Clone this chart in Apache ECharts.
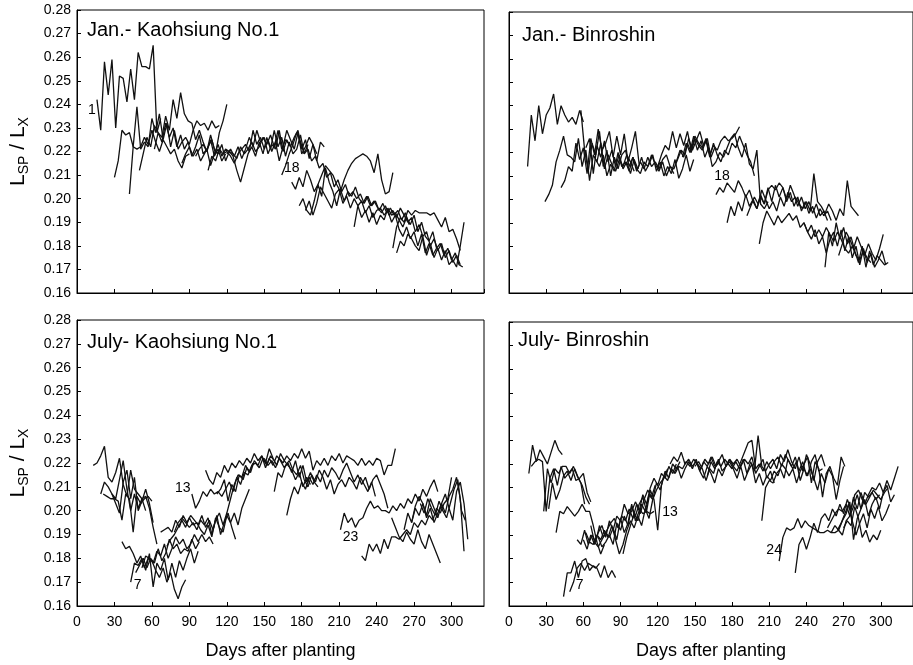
<!DOCTYPE html>
<html>
<head>
<meta charset="utf-8">
<script src="https://cdn.jsdelivr.net/npm/echarts@6/dist/echarts.min.js"></script>
<style>
  html, body { margin: 0; padding: 0; background: #fff; }
  #chart { width: 913px; height: 665px; }
</style>
</head>
<body>
<div id="chart"></div>
<script>
// Leaf-by-leaf LSP/LX ratio, sampled every few days after planting.
const STEP_DAYS = 3;

const panelTitles = ['Jan.- Kaohsiung No.1', 'Jan.- Binroshin', 'July- Kaohsiung No.1', 'July- Binroshin'];
const xAxisTitle = 'Days after planting';

// ---- January planting, Kaohsiung No.1 ----
const janKaoStarts = [16, 30, 42, 50, 62, 84, 95, 105, 120, 164, 172, 178, 183, 222, 253, 256];
const janKaoRatios = [
  [0.242,0.229,0.258,0.244,0.259,0.230,0.252,0.251,0.241,0.255,0.242,0.262,0.256,0.256,0.255,0.265,0.228,0.234],
  [0.209,0.216,0.229,0.227,0.228,0.222,0.221,0.222,0.226,0.223,0.229,0.224,0.220,0.225,0.222,0.219,0.221,0.216,0.213,0.218,0.219],
  [0.202,0.222,0.239,0.221,0.224,0.222,0.234,0.228,0.236,0.225,0.232,0.222,0.229,0.221,0.224,0.226,0.223,0.229,0.233,0.231,0.232,0.229,0.233,0.230,0.231],
  [0.212,0.219,0.226,0.222,0.231,0.228,0.226,0.235,0.229,0.242,0.234,0.245,0.236,0.233,0.232,0.225,0.229,0.224,0.220,0.225,0.218,0.221,0.216,0.219],
  [0.221,0.228,0.224,0.232,0.226,0.230,0.222,0.227,0.221,0.224,0.218,0.222,0.227,0.219,0.221,0.214,0.219,0.223,0.218,0.221,0.220,0.219,0.217,0.222,0.219,0.221,0.224,0.220,0.222,0.226,0.223,0.227,0.222,0.229,0.221,0.225,0.223],
  [0.215,0.219,0.222,0.218,0.221,0.216,0.219,0.222,0.225,0.219,0.228,0.233,0.240],
  [0.218,0.221,0.223,0.220,0.227,0.221,0.219,0.223,0.216,0.220,0.218,0.212,0.207,0.213,0.219,0.222,0.218,0.224,0.219,0.226,0.221,0.229,0.222,0.226,0.218,0.224,0.219,0.221,0.227,0.219,0.223],
  [0.212,0.218,0.216,0.221,0.219,0.220,0.218,0.215,0.219,0.221,0.223,0.220,0.229,0.223,0.226,0.221,0.225,0.220,0.224,0.216,0.222,0.229,0.225,0.221,0.228,0.219,0.222,0.226,0.223,0.216,0.224,0.222],
  [0.219,0.221,0.218,0.222,0.217,0.221,0.226,0.222,0.229,0.224,0.226,0.219,0.223,0.221,0.229,0.220,0.225,0.222,0.226,0.229,0.221,0.225,0.217,0.223,0.219],
  [0.210,0.214,0.219,0.223,0.228,0.224,0.219,0.221,0.216,0.218,0.213,0.215,0.209,0.211,0.205,0.208,0.203,0.206,0.201,0.203,0.200,0.202,0.198,0.201,0.197,0.199,0.195,0.198,0.194,0.196,0.193,0.195,0.191,0.194,0.189],
  [0.207,0.204,0.209,0.205,0.212,0.208,0.203,0.206,0.210,0.214,0.212,0.210,0.206,0.203,0.208,0.212,0.215,0.217,0.218,0.219,0.218,0.216,0.211,0.219,0.208,0.202,0.203,0.211],
  [0.197,0.200,0.195,0.193,0.199,0.206,0.201,0.213,0.207,0.203,0.197,0.204,0.199,0.203,0.201,0.205,0.200,0.198,0.201,0.197,0.199,0.196,0.194,0.197,0.193,0.195,0.192,0.196,0.193,0.190,0.192,0.186,0.189,0.184,0.186,0.180,0.183,0.178,0.181,0.175,0.178,0.173,0.176,0.172],
  [0.195,0.199,0.193,0.198,0.205,0.202,0.199,0.196,0.202,0.204,0.198,0.201,0.196,0.200,0.197,0.199,0.194,0.197,0.192,0.195,0.196,0.193,0.195,0.190,0.193,0.187,0.184,0.188,0.183,0.186,0.180,0.185,0.177,0.181,0.176,0.179],
  [0.188,0.197,0.192,0.195,0.190,0.194,0.189,0.193,0.191,0.196,0.193,0.194,0.191,0.188,0.192,0.189,0.193,0.186,0.190,0.184,0.182,0.186,0.179,0.181,0.176,0.179,0.174,0.177,0.172,0.171],
  [0.179,0.188,0.192,0.190,0.195,0.193,0.195,0.194,0.194,0.194,0.193,0.194,0.191,0.188,0.192,0.186,0.187,0.183,0.178],
  [0.177,0.182,0.180,0.185,0.183,0.180,0.178,0.184,0.176,0.181,0.175,0.179,0.174,0.178,0.172,0.174,0.171,0.180,0.190]
];

// ---- January planting, Binroshin ----
const janBinStarts = [15, 29, 42, 58, 62, 70, 120, 135, 140, 167, 176, 192, 202, 238, 255, 266];
const janBinRatios = [
  [0.214,0.236,0.225,0.240,0.228,0.236,0.239,0.245,0.232,0.240,0.236,0.233,0.235,0.232,0.238,0.233],
  [0.199,0.202,0.206,0.216,0.221,0.227,0.219,0.218,0.216,0.226,0.214,0.221,0.208,0.219,0.216,0.224,0.213,0.219,0.215,0.212,0.217,0.214,0.219,0.216,0.212],
  [0.205,0.208,0.214,0.212,0.224,0.217,0.222,0.211,0.226,0.219,0.230,0.221,0.224,0.229,0.218,0.227,0.219,0.228,0.216,0.222,0.229,0.215],
  [0.238,0.221,0.212,0.224,0.219,0.229,0.214,0.221,0.210,0.218,0.213,0.219,0.221,0.214,0.218,0.212,0.216,0.213,0.218,0.214,0.216,0.213,0.217,0.219,0.214,0.211],
  [0.222,0.226,0.211,0.223,0.218,0.225,0.216,0.221,0.214,0.219,0.213,0.216,0.211,0.217,0.213,0.218,0.212,0.215,0.219,0.212,0.216,0.210,0.214,0.211,0.217,0.209,0.213,0.219,0.212,0.217],
  [0.217,0.214,0.219,0.210,0.215,0.212,0.220,0.214,0.216,0.212,0.218,0.213,0.211,0.216,0.214,0.219,0.215,0.212,0.216,0.210,0.214,0.213,0.217,0.221,0.219,0.226,0.221,0.225,0.229,0.223,0.226,0.218,0.222],
  [0.214,0.219,0.223,0.221,0.229,0.222,0.228,0.223,0.229,0.221,0.227,0.224,0.222,0.226,0.219,0.223,0.221,0.225,0.227,0.225,0.226,0.228,0.231],
  [0.216,0.221,0.218,0.224,0.220,0.226,0.223,0.221,0.225,0.218,0.224,0.219,0.216,0.221,0.219,0.224,0.222,0.227,0.223,0.219,0.216,0.210],
  [0.218,0.224,0.220,0.227,0.221,0.225,0.218,0.222,0.214,0.216,0.220,0.218,0.222,0.226,0.228,0.222,0.218,0.224,0.215,0.213,0.221,0.198,0.196,0.199],
  [0.202,0.205,0.203,0.207,0.205,0.203,0.208,0.205,0.201,0.204,0.199,0.196,0.201,0.198,0.204,0.206,0.204,0.207,0.205,0.200,0.206,0.202,0.197,0.201,0.196,0.199,0.194,0.198,0.193,0.195,0.191],
  [0.190,0.197,0.193,0.199,0.195,0.202,0.197,0.200,0.196,0.202,0.198,0.205,0.199,0.206,0.201,0.205,0.199,0.203,0.197,0.201,0.195,0.199,0.194,0.197,0.192,0.196,0.193,0.195,0.191],
  [0.193,0.197,0.201,0.198,0.204,0.200,0.196,0.199,0.195,0.201,0.197,0.203,0.199,0.201,0.198,0.196,0.199,0.195,0.211,0.199,0.197,0.194,0.198,0.195,0.191,0.196,0.193,0.208,0.197,0.195,0.193],
  [0.181,0.190,0.195,0.192,0.189,0.193,0.190,0.192,0.194,0.191,0.193,0.188,0.190,0.186,0.189,0.184,0.187,0.184,0.188,0.185,0.182,0.186,0.183,0.179,0.177,0.180,0.176,0.174,0.178,0.175,0.173],
  [0.190,0.186,0.183,0.187,0.181,0.184,0.177,0.183,0.186,0.180,0.187,0.178,0.184,0.175,0.180,0.172,0.179,0.173,0.177,0.171,0.174,0.178,0.172],
  [0.171,0.186,0.180,0.190,0.183,0.188,0.181,0.184,0.178,0.173,0.180,0.171,0.178,0.172,0.176,0.174,0.172,0.173],
  [0.176,0.181,0.186,0.183,0.179,0.184,0.180,0.176,0.181,0.177,0.174,0.179,0.185]
];

// ---- July planting, Kaohsiung No.1 ----
const julKaoStarts = [13, 19, 21, 28, 36, 43, 47, 52, 67, 72, 78, 92, 103, 112, 150, 158, 168, 211, 228, 252, 262, 268, 275];
const julKaoRatios = [
  [0.219,0.220,0.223,0.227,0.214,0.212,0.216,0.222,0.211,0.206,0.217,0.209,0.207,0.205,0.206,0.201,0.193,0.186],
  [0.207,0.212,0.210,0.207,0.205,0.213,0.221,0.209,0.200,0.207,0.201,0.205,0.200],
  [0.207,0.206,0.205,0.205,0.204,0.196,0.207,0.205,0.191,0.206,0.203,0.205,0.206,0.204],
  [0.207,0.203,0.199,0.212,0.217,0.205,0.214,0.200,0.204,0.209,0.203,0.195],
  [0.187,0.184,0.185,0.182,0.178,0.181,0.176,0.180,0.179,0.175,0.172,0.176,0.170,0.174,0.167,0.163,0.168,0.171],
  [0.170,0.178,0.177,0.180,0.175,0.182,0.168,0.178,0.175,0.180,0.171,0.178,0.172,0.179,0.175,0.180,0.184,0.178,0.183],
  [0.174,0.177,0.180,0.176,0.180,0.178,0.184,0.179,0.182,0.188,0.184,0.186,0.182,0.184,0.183,0.188,0.184,0.187],
  [0.176,0.181,0.180,0.178,0.183,0.181,0.186,0.180,0.184,0.189,0.186,0.188,0.184,0.186,0.190,0.187,0.190,0.187,0.189,0.186],
  [0.191,0.192,0.193,0.191,0.196,0.193,0.198,0.195,0.198,0.196,0.194,0.198,0.193,0.196,0.192,0.198,0.190,0.195,0.199,0.193,0.188],
  [0.185,0.188,0.190,0.193,0.196,0.193,0.197,0.194,0.195,0.192,0.190,0.194,0.189,0.197,0.193,0.191,0.198,0.195,0.199,0.194,0.201,0.205,0.209],
  [0.191,0.195,0.197,0.195,0.193,0.195,0.192,0.196,0.194,0.197,0.190,0.196,0.199,0.194,0.199,0.205,0.211,0.215,0.214,0.219,0.216,0.220],
  [0.207,0.201,0.204,0.208,0.206,0.209,0.207,0.208,0.206,0.209,0.212,0.208,0.214,0.211,0.216,0.215,0.219,0.220,0.218,0.222,0.219,0.223,0.221],
  [0.217,0.213,0.211,0.216,0.214,0.219,0.216,0.220,0.218,0.221,0.219,0.222,0.220,0.224,0.221,0.223,0.218,0.222,0.219,0.223,0.221,0.218,0.220,0.216,0.221,0.214,0.219,0.212,0.216,0.212,0.210],
  [0.207,0.209,0.213,0.204,0.211,0.208,0.215,0.213,0.218,0.216,0.221,0.219,0.223,0.220,0.226,0.222,0.219,0.224,0.221,0.219,0.217,0.213,0.216,0.210,0.214,0.211],
  [0.222,0.219,0.221,0.218,0.222,0.220,0.223,0.221,0.224,0.222,0.226,0.222,0.225,0.217,0.221,0.219,0.222,0.219,0.223,0.221,0.224,0.220,0.223,0.222,0.221,0.219,0.222,0.219,0.221,0.219,0.222,0.221,0.215,0.219,0.219,0.226],
  [0.208,0.216,0.214,0.219,0.221,0.217,0.215,0.219,0.213,0.210,0.215,0.212,0.217,0.214,0.209,0.213,0.207,0.211,0.213,0.210,0.214,0.212,0.209,0.214,0.211,0.208,0.212,0.206],
  [0.198,0.205,0.210,0.207,0.212,0.209,0.214,0.211,0.215,0.212,0.217,0.214,0.218,0.216,0.213,0.217,0.220,0.216,0.212,0.215,0.211,0.214,0.209,0.213,0.215,0.211,0.207,0.201],
  [0.192,0.199,0.195,0.197,0.193,0.196,0.197,0.201,0.204,0.201,0.202,0.200,0.200,0.199,0.202,0.200,0.203,0.201,0.205,0.203,0.207,0.204,0.209,0.206,0.210,0.213,0.208],
  [0.181,0.179,0.186,0.183,0.186,0.182,0.188,0.184,0.189,0.189,0.188,0.190,0.192,0.190,0.195,0.193,0.196,0.194,0.198,0.196,0.201,0.199,0.203,0.205,0.214],
  [0.197,0.193,0.189,0.187,0.191,0.188,0.186,0.192,0.187,0.184,0.190,0.186,0.182,0.178],
  [0.192,0.199,0.195,0.201,0.198,0.203,0.197,0.201,0.195,0.199,0.203,0.207,0.201,0.196,0.208,0.212,0.203,0.188],
  [0.195,0.202,0.206,0.203,0.198,0.205,0.201,0.197,0.203,0.199,0.206,0.209,0.214,0.205,0.183],
  [0.203,0.199,0.205,0.201,0.198,0.204,0.200,0.197,0.203,0.209,0.213,0.200,0.196]
];

// ---- July planting, Binroshin ----
const julBinStarts = [16, 18, 28, 32, 38, 44, 49, 55, 60, 62, 66, 72, 92, 130, 133, 150, 160, 204, 218, 231, 257, 260, 265, 270];
const julBinRatios = [
  [0.216,0.228,0.221,0.226,0.223,0.220,0.225,0.230,0.226,0.224],
  [0.219,0.221,0.222,0.221,0.200,0.214,0.218,0.211,0.219,0.214,0.216,0.218,0.213,0.214,0.216,0.208,0.204],
  [0.200,0.218,0.212,0.218,0.216,0.219,0.219,0.216,0.219,0.215,0.212,0.203],
  [0.201,0.212,0.205,0.209,0.215,0.217,0.213,0.218,0.214,0.211,0.206,0.203],
  [0.191,0.200,0.199,0.202,0.200,0.198,0.200,0.203,0.200,0.200,0.194,0.187,0.182,0.186],
  [0.164,0.174,0.174,0.179,0.172,0.179,0.180,0.175,0.177,0.176,0.172,0.177,0.172,0.175,0.172],
  [0.166,0.170,0.176,0.178,0.175,0.178,0.177,0.176,0.178],
  [0.188,0.186,0.192,0.186,0.190,0.187,0.194,0.189,0.192,0.195,0.197,0.193,0.198,0.196,0.201,0.197,0.203,0.199,0.205,0.209,0.206,0.211],
  [0.188,0.184,0.190,0.186,0.191,0.194,0.189,0.196,0.192,0.198,0.196,0.203,0.199,0.200,0.204,0.201,0.199,0.200,0.199,0.200],
  [0.191,0.187,0.186,0.190,0.188,0.192,0.189,0.194,0.188,0.182,0.186,0.192,0.196,0.193,0.198,0.194,0.201,0.197,0.205,0.209,0.212,0.214,0.218],
  [0.194,0.187,0.185,0.188,0.191,0.189,0.193,0.188,0.197,0.191,0.195,0.203,0.196,0.200,0.207,0.203,0.210,0.214,0.211,0.216,0.214,0.219,0.216,0.220],
  [0.189,0.185,0.187,0.190,0.186,0.195,0.192,0.198,0.194,0.202,0.198,0.203,0.206,0.200,0.209,0.205,0.192,0.211,0.217,0.214,0.220,0.218,0.221],
  [0.182,0.189,0.194,0.199,0.196,0.203,0.200,0.207,0.205,0.212,0.209,0.215,0.213,0.218,0.216,0.219,0.218,0.221,0.219,0.222,0.220,0.218,0.222,0.220,0.223,0.219,0.221],
  [0.220,0.223,0.221,0.225,0.220,0.222,0.219,0.221,0.217,0.221,0.219,0.223,0.219,0.221,0.224,0.219,0.222,0.220,0.222,0.219,0.222,0.220,0.223,0.216,0.219,0.222,0.214,0.217,0.212],
  [0.216,0.219,0.214,0.218,0.221,0.218,0.222,0.217,0.214,0.219,0.216,0.212,0.218,0.215,0.219,0.222,0.219,0.217,0.221,0.225,0.229,0.230,0.218,0.220,0.217,0.221,0.218,0.221,0.223,0.219,0.224,0.221,0.218,0.221,0.213,0.218,0.215,0.221,0.224,0.217,0.218],
  [0.219,0.221,0.218,0.213,0.218,0.216,0.221,0.219,0.222,0.220,0.218,0.221,0.218,0.222,0.216,0.221,0.217,0.232,0.219,0.217,0.220,0.222,0.218,0.224,0.221,0.226,0.221,0.218,0.223,0.217,0.224,0.220,0.213,0.221,0.224,0.219],
  [0.215,0.221,0.218,0.222,0.217,0.219,0.221,0.218,0.214,0.219,0.213,0.217,0.220,0.212,0.216,0.211,0.215,0.213,0.217,0.215,0.220,0.218,0.215,0.218,0.212,0.217,0.220,0.223,0.212,0.221,0.218,0.206,0.216,0.219,0.214,0.211,0.223,0.219],
  [0.196,0.210,0.213,0.212,0.216,0.218,0.214,0.222,0.219,0.223,0.217,0.221,0.215,0.218,0.214,0.209,0.216,0.212,0.218,0.215,0.205,0.213,0.219],
  [0.179,0.189,0.193,0.192,0.193,0.197,0.193,0.196,0.194,0.193,0.192,0.191,0.191,0.192,0.191,0.191,0.192,0.190,0.196,0.198,0.202,0.207,0.201,0.208,0.206,0.208,0.205,0.207],
  [0.174,0.186,0.189,0.184,0.189,0.195,0.191,0.197,0.199,0.196,0.201,0.198,0.203,0.199,0.205,0.201,0.207,0.209,0.205,0.203,0.206,0.209,0.207,0.205,0.208,0.210],
  [0.193,0.196,0.199,0.201,0.200,0.203,0.198,0.206,0.201,0.208,0.203,0.207,0.210,0.209,0.212,0.208,0.213,0.209,0.214,0.219],
  [0.191,0.194,0.192,0.196,0.199,0.204,0.188,0.197,0.201,0.205,0.198,0.203,0.206,0.201,0.208,0.211,0.204,0.207],
  [0.192,0.195,0.199,0.203,0.196,0.190,0.195,0.199,0.193,0.201,0.197,0.202,0.196,0.199,0.203],
  [0.193,0.196,0.194,0.202,0.197,0.189,0.192,0.187,0.190,0.188,0.192]
];

// Leaf numbers written next to particular curves: [panel, curve, point ('first'|'last'), text]
const leafTags = [
  [0, 0, 'first', '1'],
  [0, 9, 'first', '18'],
  [1, 9, 'first', '18'],
  [2, 5, 'first', '7'],
  [2, 11, 'first', '13'],
  [2, 17, 'first', '23'],
  [3, 6, 'first', '7'],
  [3, 8, 'last', '13'],
  [3, 18, 'first', '24']
];
// pixel nudges for those leaf numbers, in the same order
const leafTagOffsets = [[-5, 11], [10, -7], [6, -19], [7, 3], [-9, -6], [10, 7], [10, -7], [16, 1], [-5, -11]];

const DAY_MIN = 0, DAY_MAX = 326, DAY_STEP = 30;
const RATIO_MIN = 0.16, RATIO_MAX = 0.28, RATIO_STEP = 0.01;

const panels = [
  { starts: janKaoStarts, ratios: janKaoRatios },
  { starts: janBinStarts, ratios: janBinRatios },
  { starts: julKaoStarts, ratios: julKaoRatios },
  { starts: julBinStarts, ratios: julBinRatios }
];

const FONT = "'Liberation Sans', Arial, Helvetica, sans-serif";
const INK = '#111';

const grids = [
  { left: 77, top: 10, width: 407, height: 283 },
  { left: 509, top: 12, width: 407, height: 281 },
  { left: 77, top: 320, width: 407, height: 286 },
  { left: 509, top: 322, width: 407, height: 284 }
].map(g => Object.assign({ show: true, borderColor: '#000', borderWidth: 1, backgroundColor: '#fff' }, g));

// title placement inside each frame
const titleInset = [[10, 10], [13, 13], [10, 12], [9, 8]];

const xAxes = grids.map((g, i) => ({
  type: 'value', gridIndex: i, min: DAY_MIN, max: DAY_MAX, interval: DAY_STEP,
  splitLine: { show: false },
  axisLine: { show: true, lineStyle: { color: '#000', width: 1 } },
  axisTick: { show: true, inside: true, length: 4, lineStyle: { color: '#000' } },
  axisLabel: {
    show: i >= 2, showMaxLabel: false, margin: 9,
    fontFamily: FONT, fontSize: 14, color: '#000'
  },
  name: i >= 2 ? xAxisTitle : '',
  nameLocation: 'middle', nameGap: 36,
  nameTextStyle: { fontFamily: FONT, fontSize: 18, color: '#000' }
}));

const yAxes = grids.map((g, i) => ({
  type: 'value', gridIndex: i, min: RATIO_MIN, max: RATIO_MAX, interval: RATIO_STEP,
  splitLine: { show: false },
  axisLine: { show: true, lineStyle: { color: '#000', width: 1 } },
  axisTick: { show: true, inside: true, length: 4, lineStyle: { color: '#000' } },
  axisLabel: {
    show: i % 2 === 0, margin: 6,
    fontFamily: FONT, fontSize: 14, color: '#000',
    formatter: v => v.toFixed(2)
  },
  name: i % 2 === 0 ? '{l|L}{s|SP}{l| / L}{s|X}' : '',
  nameLocation: 'middle', nameRotate: 90, nameGap: 46,
  nameTextStyle: {
    fontFamily: FONT, color: '#000',
    rich: {
      l: { fontFamily: FONT, fontSize: 21, lineHeight: 26, color: '#000', verticalAlign: 'middle' },
      s: { fontFamily: FONT, fontSize: 14, lineHeight: 14, color: '#000', verticalAlign: 'bottom' }
    }
  }
}));

const series = [];
panels.forEach((panel, p) => {
  panel.ratios.forEach((vals, k) => {
    const data = vals.map((v, j) => [panel.starts[k] + j * STEP_DAYS, v]);
    const s = {
      type: 'line', xAxisIndex: p, yAxisIndex: p,
      data, showSymbol: false, symbol: 'none', silent: true,
      lineStyle: { color: INK, width: 1.3 },
      clip: true
    };
    const tags = leafTags
      .map((t, n) => ({ t, off: leafTagOffsets[n] }))
      .filter(o => o.t[0] === p && o.t[1] === k);
    if (tags.length) {
      s.markPoint = {
        symbol: 'circle', symbolSize: 0, silent: true,
        data: tags.map(o => ({
          coord: o.t[2] === 'first' ? data[0] : data[data.length - 1],
          label: {
            show: true, position: 'inside', formatter: o.t[3], offset: o.off,
            fontFamily: FONT, fontSize: 14, color: '#000'
          }
        }))
      };
    }
    series.push(s);
  });
});

const titles = panelTitles.map((t, i) => ({
  text: t,
  left: grids[i].left + titleInset[i][0],
  top: grids[i].top + titleInset[i][1],
  textStyle: { fontFamily: FONT, fontSize: 20, fontWeight: 'normal', color: '#000' },
  padding: 0
}));

const chart = echarts.init(document.getElementById('chart'), null, { renderer: 'canvas' });
chart.setOption({
  animation: false,
  backgroundColor: '#fff',
  title: titles,
  grid: grids,
  xAxis: xAxes,
  yAxis: yAxes,
  series
});
</script>
</body>
</html>
